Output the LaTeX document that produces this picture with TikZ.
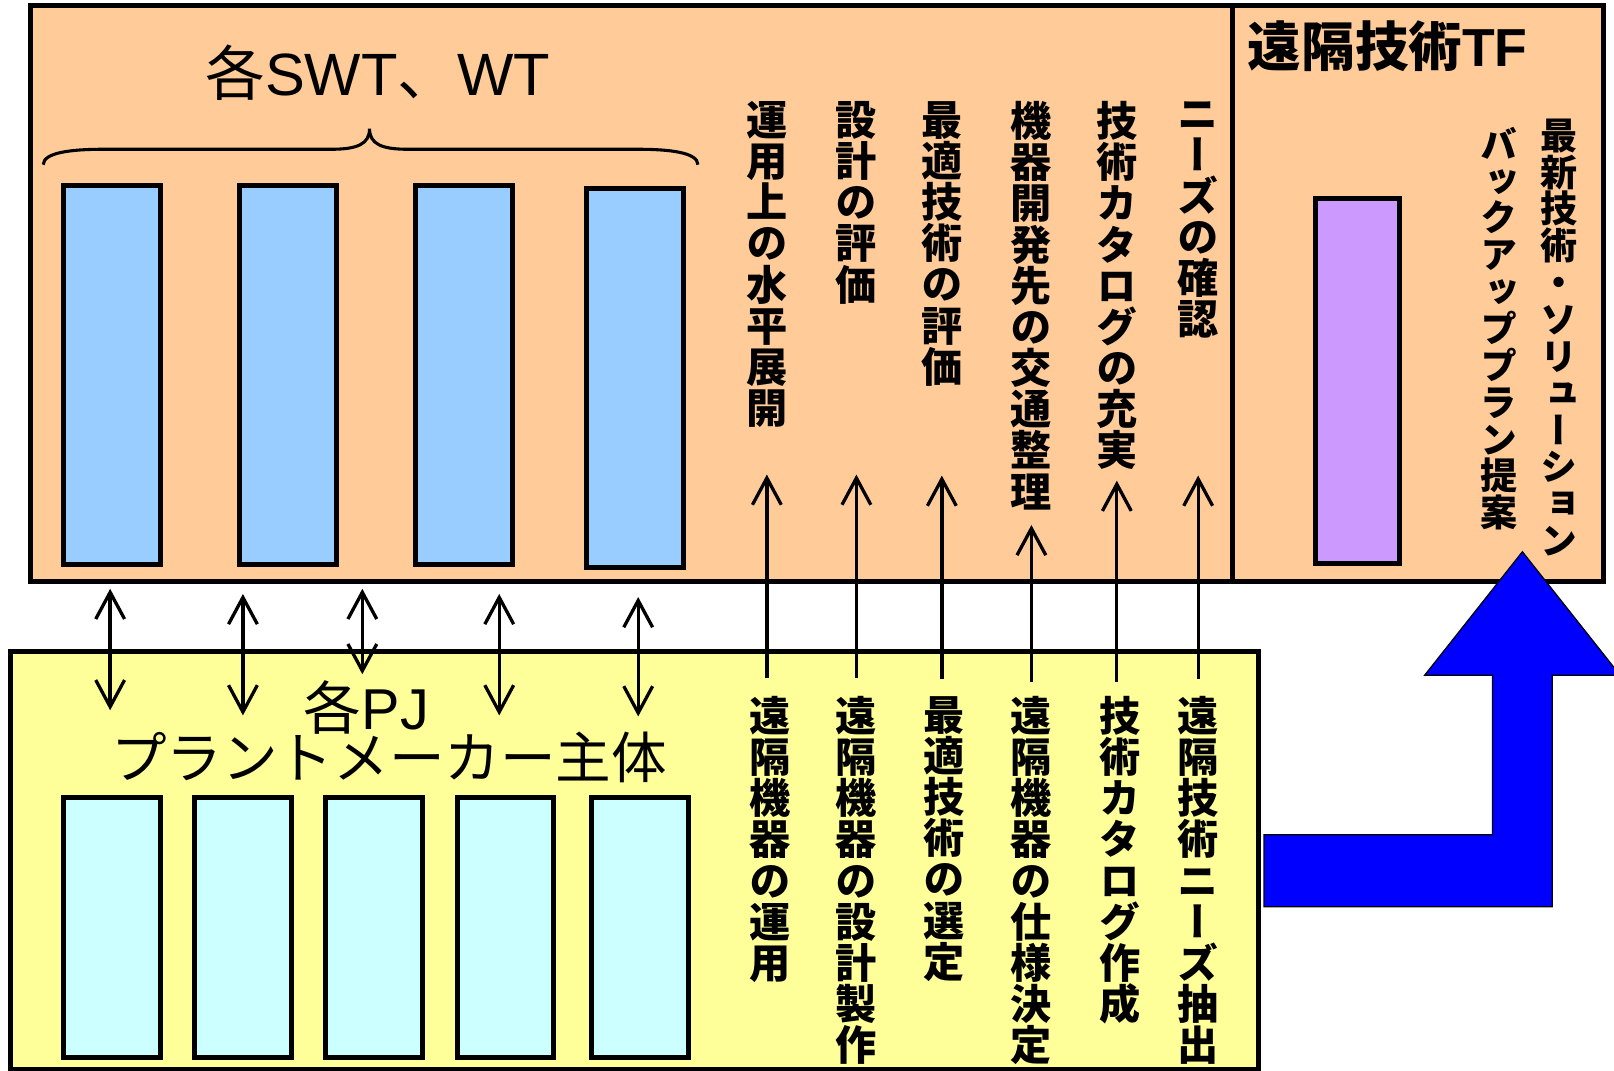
\documentclass[tikz,border=0pt]{standalone}
\usepackage{fontspec}
\setmainfont{Liberation Sans}
\newfontfamily\cjk{Noto Sans CJK JP}
\newfontfamily\vjp[RawFeature=+vert]{Noto Sans CJK JP}
\usetikzlibrary{arrows.meta}
\definecolor{orangebg}{HTML}{FFCC99}
\definecolor{yellowbg}{HTML}{FFFF99}
\definecolor{bluebox}{HTML}{99CCFF}
\definecolor{cyanbox}{HTML}{CCFFFF}
\definecolor{purplebox}{HTML}{CC99FF}
\definecolor{bigblue}{HTML}{0000FF}
\begin{document}
\begin{tikzpicture}[x=0.5pt,y=-0.5pt,
  boxline/.style={draw=black,line width=2.4pt},
  vlab/.style={inner sep=0pt, align=center, anchor=north,
    font={\vjp\bfseries\fontsize{20pt}{20pt}\selectfont\lineskiplimit=-30pt}},
  vlabs/.style={inner sep=0pt, align=center, anchor=north,
    font={\vjp\bfseries\fontsize{18pt}{17.9pt}\selectfont\lineskiplimit=-30pt}},
  uparr/.style={line width=1.6pt, -{Straight Barb[length=13pt,width=14pt]}},
  dblarr/.style={line width=1.6pt, {Straight Barb[length=13pt,width=14pt]}-{Straight Barb[length=13pt,width=14pt]}},
  bigtext/.style={inner sep=0pt, font={\fontsize{29pt}{29pt}\selectfont}},
]
\useasboundingbox (0,0) rectangle (1568,1040);

% main boxes
\draw[boxline, fill=orangebg] (30,5) rectangle (1558,565);
\draw[boxline] (1197,5) -- (1197,565);
\draw[boxline, fill=yellowbg] (10,633) rectangle (1223,1039);

% upper blue boxes
\draw[boxline, fill=bluebox] (62,180) rectangle (156,548);
\draw[boxline, fill=bluebox] (233,180) rectangle (327,548);
\draw[boxline, fill=bluebox] (404,180) rectangle (498,548);
\draw[boxline, fill=bluebox] (570,183) rectangle (664,551);
% purple box
\draw[boxline, fill=purplebox] (1278,193) rectangle (1360,547);
% lower cyan boxes
\draw[boxline, fill=cyanbox] (62,775) rectangle (156,1027);
\draw[boxline, fill=cyanbox] (189,775) rectangle (283,1027);
\draw[boxline, fill=cyanbox] (316,775) rectangle (410,1027);
\draw[boxline, fill=cyanbox] (444,775) rectangle (538,1027);
\draw[boxline, fill=cyanbox] (575,775) rectangle (669,1027);

% brace
\draw[line width=1.5pt] (42,160) .. controls (42,148) and (70,145) .. (100,145)
  -- (322,145) .. controls (347,145) and (359,140) .. (359,125)
  .. controls (359,140) and (371,145) .. (396,145)
  -- (620,145) .. controls (650,145) and (678,148) .. (678,160);

% titles
\node[bigtext, anchor=base] (swt) at (367,93) {{\cjk 各}SWT{\cjk 、}WT};
\node[bigtext, anchor=base, font={\fontsize{28pt}{28pt}\selectfont}] (pj) at (356,709) {{\cjk 各}PJ};
\node[inner sep=0pt, anchor=base, font={\cjk\fontsize{27pt}{27pt}\selectfont}] (maker) at (378,756) {プラントメーカー主体};
\node[inner sep=0pt, anchor=base west, font={\bfseries\fontsize{26pt}{26pt}\selectfont}] (tf) at (1212,65) {{\cjk 遠隔技術}TF};

% upper vertical labels
\node[vlab] (t1) at (745,98) {運\\用\\上\\の\\水\\平\\展\\開};
\node[vlab] (t2) at (832,98) {設\\計\\の\\評\\価};
\node[vlab] (t3) at (915,98) {最\\適\\技\\術\\の\\評\\価};
\node[vlab] (t4) at (1002,98) {機\\器\\開\\発\\先\\の\\交\\通\\整\\理};
\node[vlab] (t5) at (1085,98) {技\\術\\カ\\タ\\ロ\\グ\\の\\充\\実};
\node[vlab] (t6) at (1164,98) {ニ\\ー\\ズ\\の\\確\\認};

% TF vertical labels
\node[vlabs] (tf1) at (1515,115) {最\\新\\技\\術\\・\\ソ\\リ\\ュ\\ー\\シ\\ョ\\ン};
\node[vlabs] (tf2) at (1456,123) {バ\\ッ\\ク\\ア\\ッ\\プ\\プ\\ラ\\ン\\提\\案};

% lower vertical labels
\node[vlab] (b1) at (748,676) {遠\\隔\\機\\器\\の\\運\\用};
\node[vlab] (b2) at (832,676) {遠\\隔\\機\\器\\の\\設\\計\\製\\作};
\node[vlab] (b3) at (917,676) {最\\適\\技\\術\\の\\選\\定};
\node[vlab] (b4) at (1002,676) {遠\\隔\\機\\器\\の\\仕\\様\\決\\定};
\node[vlab] (b5) at (1088,676) {技\\術\\カ\\タ\\ロ\\グ\\作\\成};
\node[vlab] (b6) at (1164,676) {遠\\隔\\技\\術\\ニ\\ー\\ズ\\抽\\出};

% upward arrows
\coordinate (u1s) at (745,659); \coordinate (u1e) at (745,461);
\coordinate (u2s) at (832,659); \coordinate (u2e) at (832,461);
\coordinate (u3s) at (915,660); \coordinate (u3e) at (915,462);
\coordinate (u4s) at (1002,663); \coordinate (u4e) at (1002,510);
\coordinate (u5s) at (1085,663); \coordinate (u5e) at (1085,467);
\coordinate (u6s) at (1164,660); \coordinate (u6e) at (1164,462);
\foreach \i in {1,...,6} \draw[uparr] (u\i s) -- (u\i e);

% double arrows
\coordinate (d1t) at (107,572); \coordinate (d1b) at (107,690);
\coordinate (d2t) at (236,577); \coordinate (d2b) at (236,695);
\coordinate (d3t) at (352,572); \coordinate (d3b) at (352,655);
\coordinate (d4t) at (485,577); \coordinate (d4b) at (485,695);
\coordinate (d5t) at (620,580); \coordinate (d5b) at (620,696);
\foreach \i in {1,...,5} \draw[dblarr] (d\i t) -- (d\i b);

% big blue arrow
\draw[fill=bigblue, draw=black, line width=0.6pt]
  (1228,811) -- (1450,811) -- (1450,656) -- (1384,656) -- (1479,536)
  -- (1574,656) -- (1508,656) -- (1508,881) -- (1228,881) -- cycle;
\end{tikzpicture}
\end{document}
